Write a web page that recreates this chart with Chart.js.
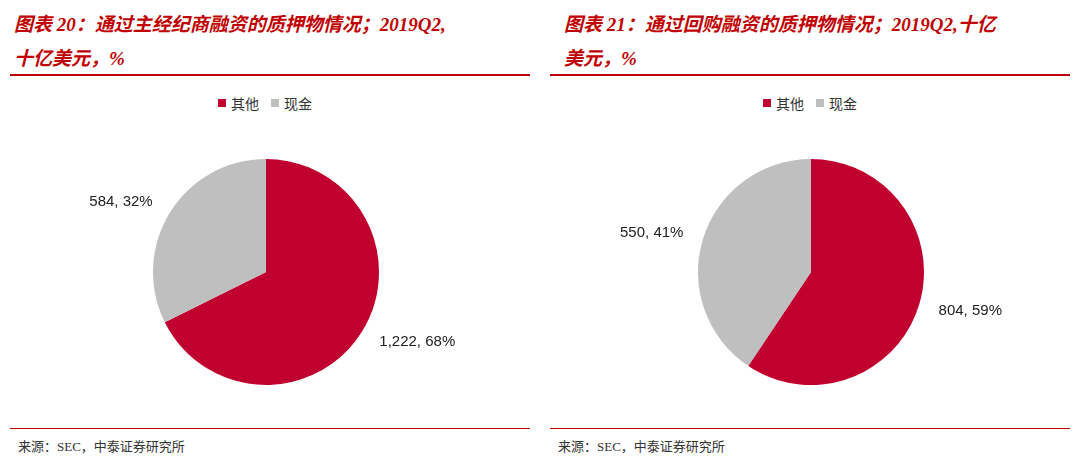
<!DOCTYPE html>
<html><head><meta charset="utf-8">
<script src="https://cdn.jsdelivr.net/npm/chart.js@4"></script>
<style>
body{margin:0;width:1080px;height:461px;background:#fff;position:relative;overflow:hidden;font-family:"Noto Sans CJK SC",sans-serif}
.title{position:absolute;top:8px;color:#C00000;font-style:italic;font-weight:bold;font-size:19px;line-height:34px;font-family:"Liberation Serif","Noto Sans CJK SC",serif}
.hr{position:absolute;height:2px;background:#C00000}
.hr2{position:absolute;height:1px;background:#C00000}
.src{position:absolute;top:436px;font-size:13px;color:#333;font-family:"Liberation Serif","Noto Sans CJK SC",serif}
.leg{position:absolute;top:93px;font-size:14px;color:#333;display:flex;gap:12px;align-items:center}
.leg span{display:inline-flex;align-items:center;gap:5px}
.leg i{display:inline-block;width:8px;height:8px}
canvas{position:absolute}
</style></head><body>
<div class="title" style="left:14px">图表 20：通过主经纪商融资的质押物情况；2019Q2,<br>十亿美元，%</div>
<div class="title" style="left:564px">图表 21：通过回购融资的质押物情况；2019Q2,十亿<br>美元，%</div>
<div class="hr" style="left:10px;width:520px;top:74px"></div>
<div class="hr" style="left:550px;width:520px;top:74px"></div>
<div class="leg" style="left:218px"><span><i style="background:#C0002E"></i>其他</span><span><i style="background:#BFBFBF"></i>现金</span></div>
<div class="leg" style="left:763px"><span><i style="background:#C0002E"></i>其他</span><span><i style="background:#BFBFBF"></i>现金</span></div>
<canvas id="c1" style="left:10px;top:140px;width:512px;height:265px"></canvas>
<canvas id="c2" style="left:555px;top:140px;width:512px;height:265px"></canvas>
<div class="hr2" style="left:10px;width:520px;top:428px"></div>
<div class="hr2" style="left:550px;width:520px;top:428px"></div>
<div class="src" style="left:18px">来源：SEC，中泰证券研究所</div>
<div class="src" style="left:558px">来源：SEC，中泰证券研究所</div>
<script>
const categories=["其他","现金"];
const primeValues=[1222,584];
const primePct=[68,32];
const repoValues=[804,550];
const repoPct=[59,41];
const colors=["#C0002E","#BFBFBF"];
const labelPlugin={id:'lbl',afterDatasetsDraw(chart){
  const ctx=chart.ctx;const meta=chart.getDatasetMeta(0);const ds=chart.data.datasets[0];
  ctx.save();ctx.font='15px "Liberation Sans", Arial';ctx.fillStyle='#222';ctx.textBaseline='middle';
  meta.data.forEach((a,i)=>{const mid=(a.startAngle+a.endAngle)/2;const R=a.outerRadius*1.18;
    const x=a.x+Math.cos(mid)*R,y=a.y+Math.sin(mid)*R;
    ctx.textAlign=Math.cos(mid)>=0?'left':'right';
    ctx.fillText(ds.data[i].toLocaleString('en-US')+', '+ds.pct[i]+'%',x,y);});
  ctx.restore();}};
function make(id,vals,pct){
  new Chart(document.getElementById(id),{type:'pie',
    data:{labels:categories,datasets:[{data:vals,pct:pct,backgroundColor:colors,borderWidth:0}]},
    options:{responsive:false,animation:false,layout:{padding:{top:19,bottom:20}},
      plugins:{legend:{display:false},tooltip:{enabled:false}}},plugins:[labelPlugin]});
}
for(const id of['c1','c2']){const c=document.getElementById(id);c.width=512;c.height=265;}
make('c1',primeValues,primePct);
make('c2',repoValues,repoPct);
</script></body></html>
